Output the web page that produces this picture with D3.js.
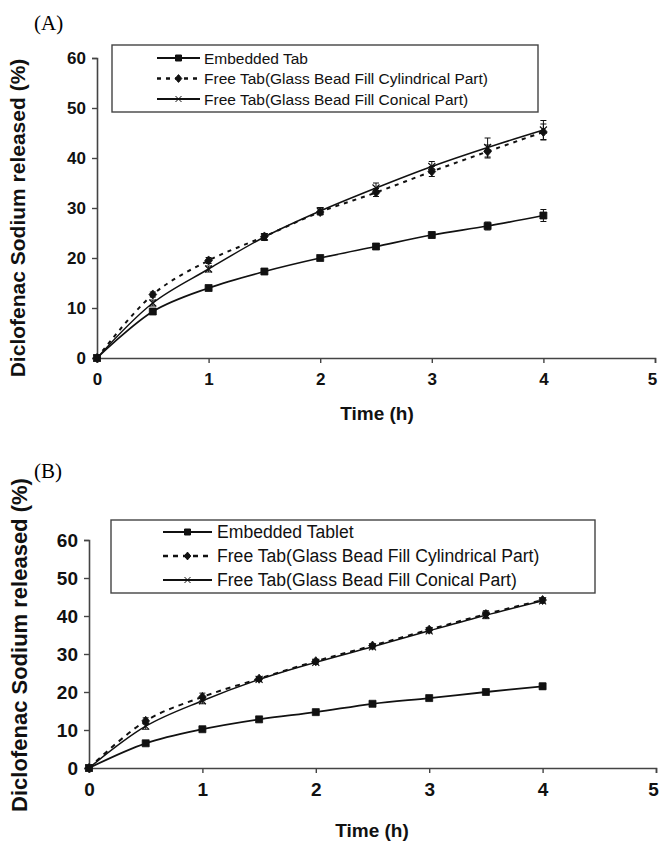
<!DOCTYPE html>
<html>
<head>
<meta charset="utf-8">
<script src="https://cdn.jsdelivr.net/npm/d3@7"></script>
<style>
  body { margin: 0; background: #fff; }
  svg { display: block; }
</style>
</head>
<body>
<svg id="chart" width="659" height="842"></svg>
<script>
// time points (h)
const times = [0, 0.5, 1, 1.5, 2, 2.5, 3, 3.5, 4];
const xTicks = [0, 1, 2, 3, 4, 5];
const yTicks = [0, 10, 20, 30, 40, 50, 60];

// panel A
const aEmbedded = [0, 9.3, 14.0, 17.3, 20.0, 22.3, 24.6, 26.4, 28.5];
const aEmbeddedErr = [0, 0.3, 0.4, 0.4, 0.4, 0.5, 0.6, 0.8, 1.2];
const aCylindrical = [0, 12.7, 19.5, 24.3, 29.2, 33.1, 37.3, 41.3, 45.2];
const aCylindricalErr = [0, 0.5, 0.6, 0.6, 0.6, 0.8, 1.0, 1.3, 1.6];
const aConical = [0, 11.0, 17.8, 24.2, 29.4, 34.0, 38.3, 42.1, 45.6];
const aConicalErr = [0, 0.6, 0.6, 0.7, 0.7, 1.0, 1.0, 1.9, 1.9];
const aLabels = ["Embedded Tab", "Free Tab(Glass Bead Fill Cylindrical Part)", "Free Tab(Glass Bead Fill Conical Part)"];

// panel B
const bEmbedded = [0, 6.5, 10.2, 12.8, 14.7, 16.9, 18.4, 20.0, 21.5];
const bEmbeddedErr = [0, 0.4, 0.4, 0.4, 0.5, 0.5, 0.5, 0.6, 0.8];
const bCylindrical = [0, 12.4, 18.7, 23.5, 28.1, 32.2, 36.4, 40.5, 44.2];
const bCylindricalErr = [0, 0.8, 1.0, 0.5, 0.5, 0.5, 0.6, 0.9, 0.6];
const bConical = [0, 11.0, 17.7, 23.3, 27.8, 31.9, 36.1, 40.2, 44.0];
const bConicalErr = [0, 0.8, 0.8, 0.5, 0.5, 0.5, 0.5, 0.9, 0.6];
const bLabels = ["Embedded Tablet", "Free Tab(Glass Bead Fill Cylindrical Part)", "Free Tab(Glass Bead Fill Conical Part)"];

const svg = d3.select("#chart");
const INK = "#111";
const AXIS = "#444";

function markerPath(kind, s) {
  if (kind === "square") return `M${-s},${-s}H${s}V${s}H${-s}Z`;
  if (kind === "diamond") return `M0,${-s * 1.3}L${s * 1.1},0L0,${s * 1.3}L${-s * 1.1},0Z`;
  return `M${-s},${-s}L${s},${s}M${-s},${s}L${s},${-s}`;
}

function drawPanel(p) {
  const g = svg.append("g");
  const x = d3.scaleLinear().domain([0, 5]).range([p.left, p.right]);
  const y = d3.scaleLinear().domain([0, 60]).range([p.bottom, p.top]);

  g.append("text")
    .attr("x", p.tagX).attr("y", p.tagY)
    .attr("font-family", "Liberation Serif, Times New Roman, serif")
    .attr("font-size", 21)
    .text(p.tag);

  const yAxis = g.append("g")
    .attr("transform", `translate(${p.left},0)`)
    .call(d3.axisLeft(y).tickValues(yTicks).tickFormat(d3.format("d")).tickSize(5).tickPadding(p.yPad));
  const xAxis = g.append("g")
    .attr("transform", `translate(0,${p.bottom})`)
    .call(d3.axisBottom(x).tickValues(xTicks).tickFormat(d3.format("d")).tickSize(5).tickPadding(p.xPad));
  [yAxis, xAxis].forEach(ax => {
    ax.select(".domain").attr("stroke", AXIS).attr("stroke-width", 1.6);
    ax.selectAll(".tick line").attr("stroke", AXIS).attr("stroke-width", 1.4);
    ax.selectAll(".tick text")
      .attr("fill", INK)
      .attr("font-family", p.tickFont)
      .attr("font-weight", "bold")
      .attr("font-size", p.tickSize);
  });
  // keep the last x label inside the page edge
  xAxis.selectAll(".tick text").filter(d => d === 5).attr("dx", -3);

  g.append("text")
    .attr("transform", `translate(${p.yTitleX},${p.yTitleY}) rotate(-90)`)
    .attr("text-anchor", "middle")
    .attr("font-family", p.tickFont)
    .attr("font-weight", "bold")
    .attr("font-size", p.yTitleSize)
    .attr("fill", INK)
    .text("Diclofenac Sodium released (%)");

  g.append("text")
    .attr("x", p.xTitleX).attr("y", p.xTitleY)
    .attr("text-anchor", "middle")
    .attr("font-family", p.tickFont)
    .attr("font-weight", "bold")
    .attr("font-size", 19)
    .attr("fill", INK)
    .text("Time (h)");

  const line = d3.line()
    .x((d, i) => x(times[i]))
    .y(d => y(d))
    .curve(d3.curveCatmullRom.alpha(0.5));

  p.series.forEach(s => {
    g.append("path")
      .datum(s.values)
      .attr("fill", "none")
      .attr("stroke", INK)
      .attr("stroke-width", s.width)
      .attr("stroke-dasharray", s.dash || null)
      .attr("d", line);

    // error bars
    const eb = g.append("g").attr("stroke", INK).attr("stroke-width", 1);
    s.values.forEach((v, i) => {
      const e = s.err[i];
      if (!e) return;
      const cx = x(times[i]);
      eb.append("path")
        .attr("fill", "none")
        .attr("d", `M${cx},${y(v + e)}V${y(v - e)}M${cx - 3},${y(v + e)}H${cx + 3}M${cx - 3},${y(v - e)}H${cx + 3}`);
    });

    g.selectAll(null)
      .data(s.values)
      .join("path")
      .attr("transform", (d, i) => `translate(${x(times[i])},${y(d)})`)
      .attr("d", markerPath(s.marker, 3.5))
      .attr("fill", s.marker === "cross" ? "none" : INK)
      .attr("stroke", INK)
      .attr("stroke-width", s.marker === "cross" ? 1.1 : 0.8);
  });

  // legend
  const lg = g.append("g");
  lg.append("rect")
    .attr("x", p.legend.x).attr("y", p.legend.y)
    .attr("width", p.legend.w).attr("height", p.legend.h)
    .attr("fill", "#fff")
    .attr("stroke", AXIS).attr("stroke-width", 1.4);
  p.series.forEach((s, i) => {
    const ry = p.legend.rowY + i * p.legend.rowStep;
    const x0 = p.legend.lineX0, x1 = p.legend.lineX1;
    lg.append("line")
      .attr("x1", x0).attr("x2", x1).attr("y1", ry).attr("y2", ry)
      .attr("stroke", INK).attr("stroke-width", s.width + 0.3)
      .attr("stroke-dasharray", s.dash || null);
    lg.append("path")
      .attr("transform", `translate(${(x0 + x1) / 2},${ry})`)
      .attr("d", markerPath(s.marker, 3))
      .attr("fill", s.marker === "cross" ? "none" : INK)
      .attr("stroke", INK).attr("stroke-width", 1);
    lg.append("text")
      .attr("x", p.legend.textX).attr("y", ry)
      .attr("dy", "0.36em")
      .attr("font-family", "Liberation Sans, Arial, sans-serif")
      .attr("font-size", p.legend.fontSize)
      .attr("fill", INK)
      .text(s.label);
  });
}

drawPanel({
  tag: "(A)", tagX: 34, tagY: 30,
  left: 97, right: 655, top: 58, bottom: 358,
  tickFont: "Liberation Sans, Arial, sans-serif", tickSize: 17, yPad: 6, xPad: 10,
  yTitleX: 25, yTitleY: 218, yTitleSize: 21,
  xTitleX: 377, xTitleY: 420,
  series: [
    { values: aEmbedded, err: aEmbeddedErr, marker: "square", width: 1.7, label: aLabels[0] },
    { values: aCylindrical, err: aCylindricalErr, marker: "diamond", width: 2, dash: "4,5", label: aLabels[1] },
    { values: aConical, err: aConicalErr, marker: "cross", width: 1.5, label: aLabels[2] }
  ],
  legend: { x: 112, y: 45, w: 426, h: 67, rowY: 58, rowStep: 20.5, lineX0: 157, lineX1: 200, textX: 204, fontSize: 15.5 }
});

drawPanel({
  tag: "(B)", tagX: 34, tagY: 478,
  left: 89, right: 656, top: 540, bottom: 768,
  tickFont: "Liberation Sans Narrow, Liberation Sans, Arial, sans-serif", tickSize: 19, yPad: 6, xPad: 10,
  yTitleX: 27, yTitleY: 645, yTitleSize: 22,
  xTitleX: 372, xTitleY: 837,
  series: [
    { values: bEmbedded, err: bEmbeddedErr, marker: "square", width: 1.8, label: bLabels[0] },
    { values: bCylindrical, err: bCylindricalErr, marker: "diamond", width: 2, dash: "5,5", label: bLabels[1] },
    { values: bConical, err: bConicalErr, marker: "cross", width: 1.5, label: bLabels[2] }
  ],
  legend: { x: 111, y: 520, w: 484, h: 73, rowY: 532, rowStep: 24, lineX0: 163, lineX1: 212, textX: 217, fontSize: 17.6 }
});
</script>
</body>
</html>
